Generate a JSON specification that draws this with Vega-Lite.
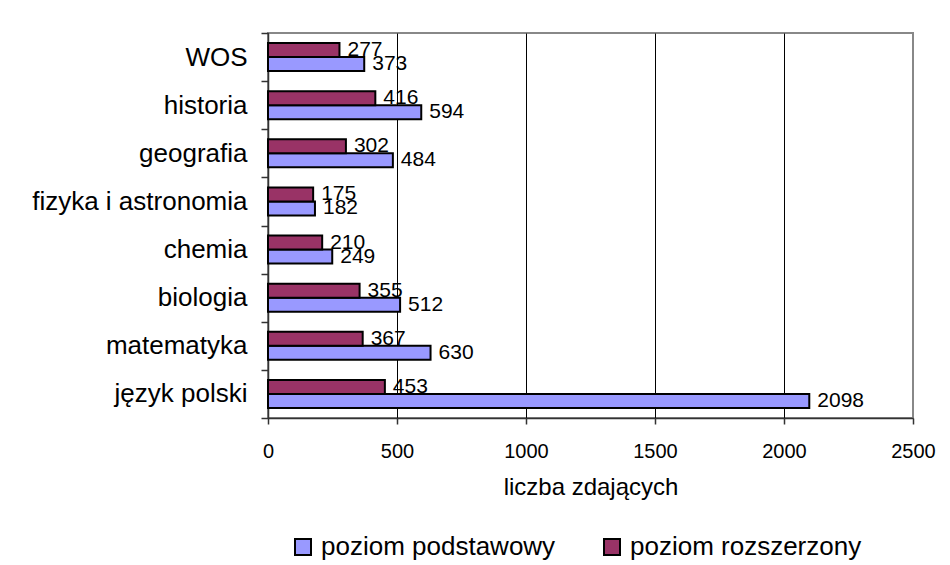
{
  "$schema": "https://vega.github.io/schema/vega-lite/v6.json",
  "width": 645,
  "height": 385,
  "autosize": {"type": "none"},
  "padding": {"left": 268, "top": 33, "right": 37, "bottom": 147},
  "background": "white",
  "config": {
    "font": "Liberation Sans",
    "view": {"stroke": "#888888", "strokeWidth": 2}
  },
  "data": {
    "values": [
      {"przedmiot": "WOS", "poziom": "poziom podstawowy", "liczba": 373},
      {"przedmiot": "WOS", "poziom": "poziom rozszerzony", "liczba": 277},
      {"przedmiot": "historia", "poziom": "poziom podstawowy", "liczba": 594},
      {"przedmiot": "historia", "poziom": "poziom rozszerzony", "liczba": 416},
      {"przedmiot": "geografia", "poziom": "poziom podstawowy", "liczba": 484},
      {"przedmiot": "geografia", "poziom": "poziom rozszerzony", "liczba": 302},
      {"przedmiot": "fizyka i astronomia", "poziom": "poziom podstawowy", "liczba": 182},
      {"przedmiot": "fizyka i astronomia", "poziom": "poziom rozszerzony", "liczba": 175},
      {"przedmiot": "chemia", "poziom": "poziom podstawowy", "liczba": 249},
      {"przedmiot": "chemia", "poziom": "poziom rozszerzony", "liczba": 210},
      {"przedmiot": "biologia", "poziom": "poziom podstawowy", "liczba": 512},
      {"przedmiot": "biologia", "poziom": "poziom rozszerzony", "liczba": 355},
      {"przedmiot": "matematyka", "poziom": "poziom podstawowy", "liczba": 630},
      {"przedmiot": "matematyka", "poziom": "poziom rozszerzony", "liczba": 367},
      {"przedmiot": "język polski", "poziom": "poziom podstawowy", "liczba": 2098},
      {"przedmiot": "język polski", "poziom": "poziom rozszerzony", "liczba": 453}
    ]
  },
  "encoding": {
    "y": {
      "field": "przedmiot",
      "type": "nominal",
      "sort": ["WOS", "historia", "geografia", "fizyka i astronomia", "chemia", "biologia", "matematyka", "język polski"],
      "scale": {"paddingInner": 0, "paddingOuter": 0},
      "axis": {
        "title": null,
        "labelFontSize": 26,
        "labelColor": "black",
        "labelPadding": 14,
        "labelLimit": 300,
        "labelExpr": "datum.value === 'historia' ? 'historia\u00a0' : datum.value",
        "tickSize": 7,
        "tickBand": "extent",
        "tickColor": "#333333",
        "tickWidth": 1.5,
        "domainColor": "#333333",
        "domainWidth": 1.5,
        "grid": false
      }
    },
    "yOffset": {
      "field": "poziom",
      "type": "nominal",
      "sort": ["poziom rozszerzony", "poziom podstawowy"],
      "scale": {"paddingInner": 0, "paddingOuter": 0.71875}
    },
    "x": {
      "field": "liczba",
      "type": "quantitative",
      "scale": {"domain": [0, 2500], "nice": false},
      "axis": {
        "values": [0, 500, 1000, 1500, 2000, 2500],
        "format": "d",
        "title": "liczba zdających",
        "titleFontSize": 24,
        "titleFontWeight": "normal",
        "titleColor": "black",
        "titleY": 76,
        "titleX": 322.5,
        "titleAlign": "center",
        "titleBaseline": "alphabetic",
        "labelFontSize": 20,
        "labelColor": "black",
        "labelPadding": 17,
        "labelFlush": false,
        "labelOverlap": false,
        "tickSize": 6,
        "tickColor": "#333333",
        "tickWidth": 1.5,
        "domainColor": "#333333",
        "domainWidth": 1.5,
        "grid": true,
        "gridColor": {"condition": {"test": "datum.value === 2500", "value": "transparent"}, "value": "black"},
        "gridWidth": 1
      }
    }
  },
  "layer": [
    {
      "mark": {"type": "bar", "stroke": "black", "strokeWidth": 2},
      "encoding": {
        "color": {
          "field": "poziom",
          "type": "nominal",
          "scale": {"domain": ["poziom podstawowy", "poziom rozszerzony"], "range": ["#9999FF", "#993366"]},
          "legend": {
            "orient": "none",
            "legendX": 22,
            "legendY": 501,
            "direction": "horizontal",
            "title": null,
            "symbolType": "square",
            "symbolSize": 256,
            "symbolStrokeColor": "black",
            "symbolStrokeWidth": 2,
            "symbolOpacity": 1,
            "labelFontSize": 26,
            "labelColor": "black",
            "labelLimit": 400,
            "labelOffset": 5,
            "columnPadding": 43
          }
        }
      }
    },
    {
      "mark": {"type": "text", "align": "left", "baseline": "middle", "dx": 8, "fontSize": 21, "color": "black"},
      "encoding": {
        "text": {"field": "liczba", "type": "quantitative", "format": "d"}
      }
    }
  ]
}
